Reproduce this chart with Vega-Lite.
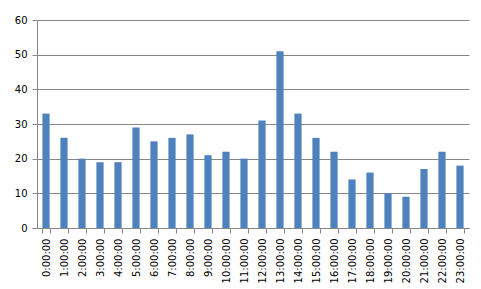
{
  "$schema": "https://vega.github.io/schema/vega-lite/v6.json",
  "width": 432,
  "height": 208,
  "autosize": {"type": "none"},
  "padding": {"left": 37, "top": 20, "right": 12, "bottom": 61},
  "background": "white",
  "data": {
    "values": [
      {"hour": "0:00:00", "count": 33},
      {"hour": "1:00:00", "count": 26},
      {"hour": "2:00:00", "count": 20},
      {"hour": "3:00:00", "count": 19},
      {"hour": "4:00:00", "count": 19},
      {"hour": "5:00:00", "count": 29},
      {"hour": "6:00:00", "count": 25},
      {"hour": "7:00:00", "count": 26},
      {"hour": "8:00:00", "count": 27},
      {"hour": "9:00:00", "count": 21},
      {"hour": "10:00:00", "count": 22},
      {"hour": "11:00:00", "count": 20},
      {"hour": "12:00:00", "count": 31},
      {"hour": "13:00:00", "count": 51},
      {"hour": "14:00:00", "count": 33},
      {"hour": "15:00:00", "count": 26},
      {"hour": "16:00:00", "count": 22},
      {"hour": "17:00:00", "count": 14},
      {"hour": "18:00:00", "count": 16},
      {"hour": "19:00:00", "count": 10},
      {"hour": "20:00:00", "count": 9},
      {"hour": "21:00:00", "count": 17},
      {"hour": "22:00:00", "count": 22},
      {"hour": "23:00:00", "count": 18}
    ]
  },
  "mark": {"type": "bar", "color": "#4F81BD"},
  "encoding": {
    "x": {
      "field": "hour",
      "type": "nominal",
      "sort": null,
      "scale": {"paddingInner": 0.6, "paddingOuter": 0.3},
      "axis": {
        "title": null,
        "labelAngle": -90,
        "labelAlign": "right",
        "labelBaseline": "middle",
        "labelFont": "DejaVu Sans",
        "labelFontSize": 10,
        "labelColor": "#000000",
        "labelPadding": 5,
        "tickBand": "extent",
        "tickSize": 5,
        "tickColor": "#868686",
        "domainColor": "#868686",
        "grid": false
      }
    },
    "y": {
      "field": "count",
      "type": "quantitative",
      "scale": {"domain": [0, 60], "nice": false},
      "axis": {
        "title": null,
        "values": [0, 10, 20, 30, 40, 50, 60],
        "labelFont": "DejaVu Sans",
        "labelFontSize": 10,
        "labelColor": "#000000",
        "labelPadding": 5,
        "tickSize": 5,
        "tickColor": "#868686",
        "domainColor": "#868686",
        "gridColor": "#868686",
        "gridOpacity": 1
      }
    }
  },
  "config": {
    "view": {"stroke": null},
    "axis": {"domainWidth": 1, "tickWidth": 1, "gridWidth": 1}
  }
}
